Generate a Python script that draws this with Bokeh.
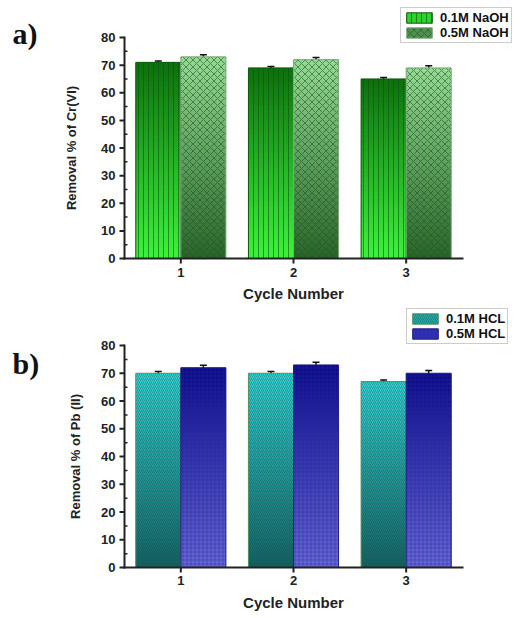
from math import pi
from bokeh.plotting import figure
from bokeh.layouts import column
from bokeh.models import (ColumnDataSource, Range1d, Whisker, TeeHead, Legend, LegendItem)
from bokeh.core.properties import value
from bokeh.embed import file_html
from bokeh.resources import INLINE

# ---------------- data ----------------
cycles = [1, 2, 3]
cycle_labels = ["1", "2", "3"]
y_ticks = [0, 10, 20, 30, 40, 50, 60, 70, 80]
y_tick_labels = ["0", "10", "20", "30", "40", "50", "60", "70", "80"]
y_minor = [5, 15, 25, 35, 45, 55, 65, 75]

naoh_01 = [71, 69, 65]
naoh_01_err = [0.5, 0.5, 0.5]
naoh_05 = [73, 72, 69]
naoh_05_err = [0.8, 0.8, 0.8]

hcl_01 = [70, 70, 67]
hcl_01_err = [0.6, 0.6, 0.6]
hcl_05 = [72, 73, 70]
hcl_05_err = [0.9, 1.0, 1.0]

# ---------------- style / layout ----------------
FONT = "Liberation Sans"
SERIF = "Liberation Serif"
AXC = "#222222"
N_SEG = 40
BAR_W = 0.4
W = 520
X_MIN, X_MAX = 0.5, 3.5
Y_MIN, Y_MAX = 0, 80
AX_L, AX_R = 124, 462          # pixel x of X_MIN / X_MAX
NAN = float("nan")


def hex2rgb(h):
    h = h.lstrip("#")
    return tuple(int(h[i:i + 2], 16) for i in (0, 2, 4))


def lerp(c0, c1, f):
    a, b = hex2rgb(c0), hex2rgb(c1)
    return "#%02x%02x%02x" % tuple(int(round(a[i] + (b[i] - a[i]) * f)) for i in range(3))


def make_panel(H, y0_px, y80_px, ylabel, ylabel_px, xlabel_py, xtick_py, panel_label,
               plabel_px, series, legend_box):
    xper = (AX_R - AX_L) / (X_MAX - X_MIN)
    yper = (y0_px - y80_px) / (Y_MAX - Y_MIN)
    px2x = lambda px: X_MIN + (px - AX_L) / xper
    py2y = lambda py: Y_MIN + (y0_px - py) / yper

    p = figure(width=W, height=H, output_backend="svg", toolbar_location=None,
               x_range=Range1d(px2x(0), px2x(W)), y_range=Range1d(py2y(H), py2y(0)),
               x_axis_type=None, y_axis_type=None,
               min_border=0, min_border_left=0, min_border_right=0,
               min_border_top=0, min_border_bottom=0)
    p.outline_line_color = None
    p.grid.visible = False
    p.background_fill_color = "white"
    p.border_fill_color = "white"

    items = []
    for off, (name, vals, errs, bc, tc, hatch, hcol, halpha, hscale, lcol, legc) in zip([-0.2, 0.2], series):
        xs = [c + off for c in cycles]
        # gradient body
        sx, sb, st, sc = [], [], [], []
        for x, v in zip(xs, vals):
            for i in range(N_SEG):
                sx.append(x)
                sb.append(v * i / N_SEG)
                st.append(min(v, v * (i + 1) / N_SEG + 0.8))
                sc.append(lerp(bc, tc, (i + 0.5) / N_SEG))
        p.vbar(x=sx, bottom=sb, top=st, width=BAR_W, fill_color=sc, line_color=None)
        # hatch + outline
        p.vbar(x=xs, bottom=0, top=vals, width=BAR_W, fill_alpha=0,
               hatch_pattern=hatch, hatch_color=hcol, hatch_alpha=halpha,
               hatch_scale=hscale, hatch_weight=1, line_color=lcol, line_width=1)
        # legend-only renderer (draws nothing in the plot)
        r = p.vbar(x=[NAN], bottom=[NAN], top=[NAN], width=BAR_W, fill_color=legc,
                   hatch_pattern=hatch, hatch_color=hcol, hatch_alpha=halpha,
                   hatch_scale=hscale, hatch_weight=1, line_color=lcol, line_width=1)
        items.append(LegendItem(label=name, renderers=[r]))
        # error bars
        src = ColumnDataSource(dict(x=xs, lo=[v - e for v, e in zip(vals, errs)],
                                    hi=[v + e for v, e in zip(vals, errs)]))
        p.add_layout(Whisker(base="x", lower="lo", upper="hi", source=src,
                             line_color="#111111", line_width=1.5,
                             upper_head=TeeHead(size=7, line_color="#111111", line_width=1.5),
                             lower_head=TeeHead(size=7, line_color="#111111", line_width=1.5)))

    # axes (drawn manually so that annotations outside the axes stay visible)
    p.segment(x0=[X_MIN, X_MIN], y0=[Y_MIN, Y_MIN], x1=[X_MIN, X_MAX], y1=[Y_MAX, Y_MIN],
              line_color=AXC, line_width=2, line_cap="square")
    p.ray(x=[X_MIN] * len(y_ticks), y=y_ticks, length=5, length_units="screen",
          angle=pi, line_color=AXC, line_width=2)
    p.ray(x=[X_MIN] * len(y_minor), y=y_minor, length=3, length_units="screen",
          angle=0, line_color=AXC, line_width=1.5)
    p.ray(x=cycles, y=[Y_MIN] * len(cycles), length=5, length_units="screen",
          angle=-pi / 2, line_color=AXC, line_width=2)

    p.text(x=[px2x(AX_L - 9)] * len(y_ticks), y=y_ticks, text=y_tick_labels,
           text_font=value(FONT), text_font_style="bold", text_font_size="13px",
           text_color=AXC, text_align="right", text_baseline="middle")
    p.text(x=cycles, y=[py2y(xtick_py)] * len(cycles), text=cycle_labels,
           text_font=value(FONT), text_font_style="bold", text_font_size="13px",
           text_color=AXC, text_align="center", text_baseline="middle")
    p.text(x=[px2x((AX_L + AX_R) / 2)], y=[py2y(xlabel_py)], text=["Cycle Number"],
           text_font=value(FONT), text_font_style="bold", text_font_size="15px",
           text_color=AXC, text_align="center", text_baseline="middle")
    p.text(x=[px2x(ylabel_px)], y=[py2y((y0_px + y80_px) / 2)], text=[ylabel], angle=pi / 2,
           text_font=value(FONT), text_font_style="bold", text_font_size="13px",
           text_color=AXC, text_align="center", text_baseline="middle")
    p.text(x=[px2x(plabel_px[0])], y=[py2y(plabel_px[1])], text=[panel_label],
           text_font=value(SERIF), text_font_style="bold", text_font_size="30px",
           text_color="#111111", text_align="left", text_baseline="alphabetic")

    lx, ly_bottom = legend_box
    leg = Legend(items=items, location=(lx, H - ly_bottom), orientation="vertical",
                 label_text_font=FONT, label_text_font_style="bold",
                 label_text_font_size="13px", label_text_color="#111111",
                 label_text_line_height=1.0,
                 glyph_width=32, glyph_height=13, label_height=13,
                 spacing=0, padding=2, margin=0, label_standoff=5,
                 border_line_color="#9a9a9a", border_line_width=1,
                 background_fill_color="white", background_fill_alpha=1)
    p.add_layout(leg, "center")
    return p


top_series = [
    ("0.1M NaOH", naoh_01, naoh_01_err, "#3ff23f", "#0d6f0d", "vertical_line", "#0a560a", 0.6, 5, "#0a5a0a", "#2ed22e"),
    ("0.5M NaOH", naoh_05, naoh_05_err, "#2a642a", "#94da94", "diagonal_cross", "#1d561d", 0.6, 7, "#80a880", "#4f8f4f"),
]
bot_series = [
    ("0.1M HCL", hcl_01, hcl_01_err, "#156161", "#35d4d4", "right_diagonal_line", "#0d4a4a", 0.4, 4, "#4f9060", "#28a8a8"),
    ("0.5M HCL", hcl_05, hcl_05_err, "#6868da", "#0a0a8a", "cross", "#262690", 0.4, 4, "#20207a", "#3030b8"),
]

p1 = make_panel(305, 258, 37, "Removal % of Cr(VI)", 71, 293, 272, "a)", (12, 33),
                top_series, (400, 43))
p2 = make_panel(312, 262, 40, "Removal % of Pb (II)", 75, 297, 275, "b)", (12, 58),
                bot_series, (406, 39))

layout = column(p1, p2, spacing=0)
open("out.html", "w").write(file_html(layout, INLINE))
